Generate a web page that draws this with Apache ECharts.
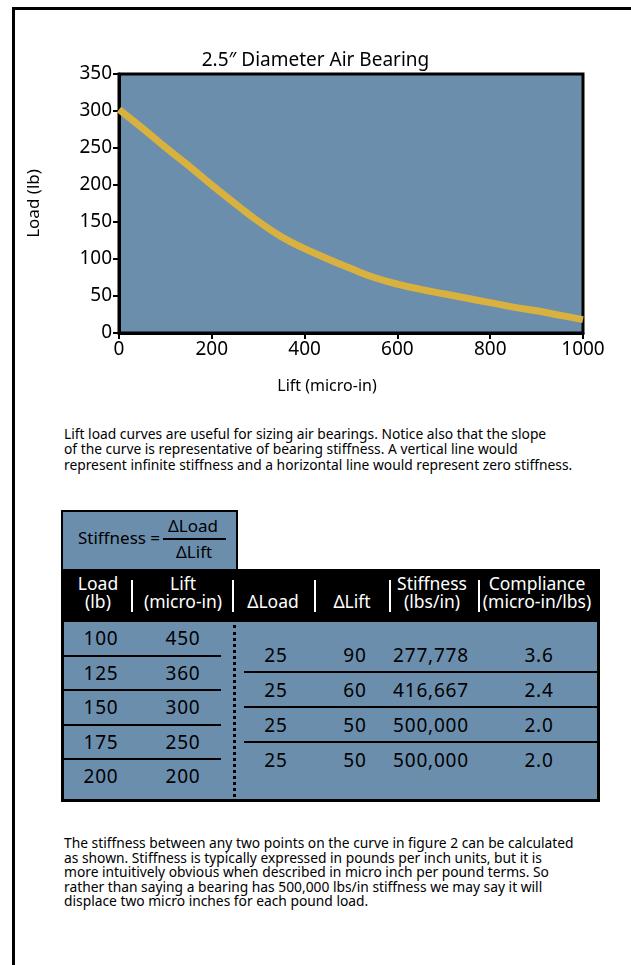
<!DOCTYPE html>
<html>
<head>
<meta charset="utf-8">
<script src="https://cdn.jsdelivr.net/npm/echarts@6/dist/echarts.min.js"></script>
<style>
  html, body { margin:0; padding:0; background:#fff; width:631px; height:965px; overflow:hidden; }
  body { position:relative; font-family:"Noto Sans", sans-serif; color:#000; }
  #frame { position:absolute; left:12px; top:7px; width:640px; height:1000px; border-left:3px solid #000; border-top:3px solid #000; box-sizing:border-box; }
  #chart { position:absolute; left:0; top:0; width:631px; height:410px; }
  .para { position:absolute; left:64px; font-size:13.8px; line-height:15.3px; white-space:nowrap; }
  #formula { position:absolute; left:61px; top:510px; width:177px; height:61px; background:#6B8EAD; border:2px solid #000; box-sizing:border-box; }
  #header { position:absolute; left:61px; top:569px; width:539px; height:53px; background:#000; color:#fff; }
  #tbody { position:absolute; left:61px; top:622px; width:539px; height:180px; background:#6B8EAD; border:3px solid #000; border-top:none; box-sizing:border-box; }
  .abs { position:absolute; white-space:nowrap; }
  .hcell { position:absolute; top:5px; width:130px; margin-left:-65px; text-align:center; font-size:17.5px; line-height:18px; }
  .sep { position:absolute; top:11px; width:2px; height:32px; background:#fff; }
  .cell { position:absolute; width:110px; margin-left:-55px; text-align:center; font-size:19px; line-height:20px; letter-spacing:0.8px; }
</style>
</head>
<body>
<div id="frame"></div>
<div id="chart"></div>
<div class="para" id="p1" style="top:426px;"></div>
<div id="formula">
  <div class="abs" style="left:15px; top:15px; font-size:17px; line-height:22px;">Stiffness =</div>
  <div class="abs" style="left:100px; top:26px; width:63px; height:1.5px; background:#000;"></div>
  <div class="abs" style="left:105px; top:3px; font-size:17px; line-height:22px;">ΔLoad</div>
  <div class="abs" style="left:113px; top:29px; font-size:17px; line-height:22px;">ΔLift</div>
</div>
<div id="header"></div>
<div id="tbody"></div>
<div class="para" id="p2" style="top:836px; line-height:14.6px;"></div>

<script>
// ---- chart data (Load vs Lift) ----
const liftValues = [0, 50, 100, 150, 200, 250, 300, 350, 400, 450, 500, 550, 600, 650, 700, 750, 800, 850, 900, 950, 1000];
const loadValues = [302, 277, 251, 226, 200, 175, 151, 130, 114, 100, 87, 75, 66, 59, 53, 47, 41, 35, 30, 24, 18];
const chartTitle = '2.5\u2033 Diameter Air Bearing';
const xAxisName = 'Lift (micro-in)';
const yAxisName = 'Load (lb)';

// ---- table data ----
const headerLabels = ['Load\n(lb)', 'Lift\n(micro-in)', '\n\u0394Load', '\n\u0394Lift', 'Stiffness\n(lbs/in)', 'Compliance\n(micro-in/lbs)'];
const tableLoad = [100, 125, 150, 175, 200];
const tableLift = [450, 360, 300, 250, 200];
const deltaLoad = [25, 25, 25, 25];
const deltaLift = [90, 60, 50, 50];
const stiffness = ['277,778', '416,667', '500,000', '500,000'];
const compliance = ['3.6', '2.4', '2.0', '2.0'];

// ---- text ----
const para1Lines = [
  'Lift load curves are useful for sizing air bearings. Notice also that the slope',
  'of the curve is representative of bearing stiffness. A vertical line would',
  'represent infinite stiffness and a horizontal line would represent zero stiffness.'
];
const para2Lines = [
  'The stiffness between any two points on the curve in figure 2 can be calculated',
  'as shown. Stiffness is typically expressed in pounds per inch units, but it is',
  'more intuitively obvious when described in micro inch per pound terms. So',
  'rather than saying a bearing has 500,000 lbs/in stiffness we may say it will',
  'displace two micro inches for each pound load.'
];

// paragraphs
document.getElementById('p1').innerHTML = para1Lines.join('<br>');
document.getElementById('p2').innerHTML = para2Lines.join('<br>');

// header
const headerCenters = [37, 122, 212, 291, 371, 476];
const sepX = [70, 171, 253, 328, 417];
const hdr = document.getElementById('header');
headerLabels.forEach((t, i) => {
  const d = document.createElement('div');
  d.className = 'hcell';
  d.style.left = headerCenters[i] + 'px';
  d.innerHTML = t.split('\n').map(s => s || '&nbsp;').join('<br>');
  hdr.appendChild(d);
});
sepX.forEach(x => {
  const s = document.createElement('div');
  s.className = 'sep';
  s.style.left = x + 'px';
  hdr.appendChild(s);
});

// body
const tb = document.getElementById('tbody');
const leftRowH = 34.6;
tableLoad.forEach((v, i) => {
  const top = i * leftRowH;
  [[37, v], [119, tableLift[i]]].forEach(([cx, val]) => {
    const c = document.createElement('div');
    c.className = 'cell';
    c.style.left = cx + 'px';
    c.style.top = (top + 6) + 'px';
    c.textContent = val;
    tb.appendChild(c);
  });
  if (i < tableLoad.length - 1) {
    const l = document.createElement('div');
    l.className = 'abs';
    l.style.cssText += 'left:0;width:157px;height:2px;background:#000;top:' + (top + leftRowH - 2) + 'px';
    tb.appendChild(l);
  }
});
const dots = document.createElement('div');
dots.className = 'abs';
dots.style.cssText += 'left:169px;top:3px;height:172px;width:0;border-left:3px dotted #000;';
tb.appendChild(dots);

const rightTop = 15, rightRowH = 35;
deltaLoad.forEach((v, i) => {
  const top = rightTop + i * rightRowH;
  [[212, v], [291, deltaLift[i]], [367, stiffness[i]], [475, compliance[i]]].forEach(([cx, val]) => {
    const c = document.createElement('div');
    c.className = 'cell';
    c.style.left = cx + 'px';
    c.style.top = (top + 8) + 'px';
    c.textContent = val;
    tb.appendChild(c);
  });
  if (i < deltaLoad.length - 1) {
    const l = document.createElement('div');
    l.className = 'abs';
    l.style.cssText += 'left:180px;right:0;height:2px;background:#000;top:' + (top + rightRowH - 1) + 'px';
    tb.appendChild(l);
  }
});

// chart
const chart = echarts.init(document.getElementById('chart'), null, { renderer: 'canvas' });
chart.setOption({
  animation: false,
  textStyle: { fontFamily: 'Noto Sans' },
  title: {
    text: chartTitle, left: 'center', top: 46,
    textStyle: { fontSize: 19, fontWeight: 'normal', color: '#000', fontFamily: 'Noto Sans' }
  },
  grid: {
    left: 119, top: 74, width: 464, height: 259, show: true,
    backgroundColor: '#6B8EAD', borderColor: '#000', borderWidth: 3
  },
  xAxis: {
    type: 'value', min: 0, max: 1000, interval: 200,
    name: xAxisName, nameLocation: 'middle', nameGap: 45,
    nameTextStyle: { fontSize: 16, color: '#000', padding: [0, 48, 0, 0] },
    axisLine: { show: true, lineStyle: { color: '#000', width: 3 } },
    axisTick: { show: true, length: 6, lineStyle: { color: '#000', width: 2 } },
    axisLabel: { fontSize: 19, color: '#000', margin: 7, formatter: v => String(v) },
    splitLine: { show: false }
  },
  yAxis: {
    type: 'value', min: 0, max: 350, interval: 50,
    name: yAxisName, nameLocation: 'middle', nameGap: 76, nameRotate: 90,
    nameTextStyle: { fontSize: 17, color: '#000' },
    axisLine: { show: true, lineStyle: { color: '#000', width: 3 } },
    axisTick: { show: true, length: 6, lineStyle: { color: '#000', width: 2 } },
    axisLabel: { fontSize: 19, color: '#000', margin: 7, formatter: v => String(v) },
    splitLine: { show: false }
  },
  series: [{
    type: 'line',
    data: liftValues.map((x, i) => [x, loadValues[i]]),
    smooth: 0.45,
    symbol: 'none',
    lineStyle: { color: '#D9B13F', width: 7 },
    clip: true
  }]
});
</script>
</body>
</html>
